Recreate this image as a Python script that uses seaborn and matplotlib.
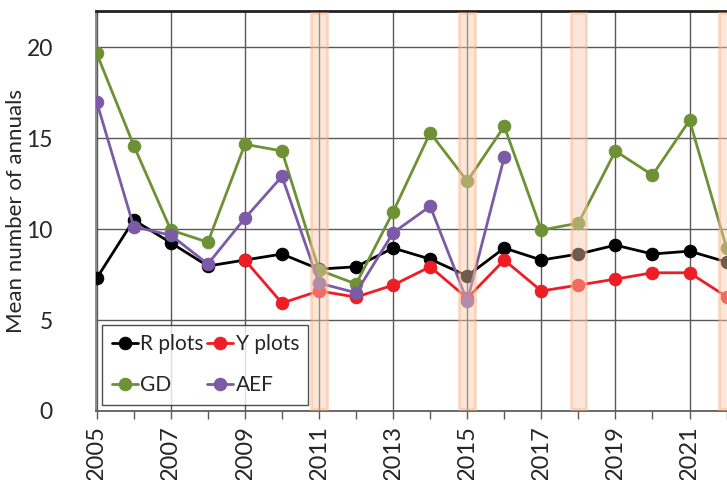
import numpy as np
import pandas as pd
import matplotlib
matplotlib.use("Agg")
import matplotlib.pyplot as plt
import seaborn as sns
from matplotlib.patches import Rectangle

# ================= DATA =================
years_r = list(range(2005, 2023))
r_plots = [7.3, 10.5, 9.25, 7.97, 8.3, 8.63, 7.8, 7.93, 8.96, 8.35, 7.43, 8.96,
           8.3, 8.63, 9.12, 8.63, 8.79, 8.19]

years_y = list(range(2009, 2023))
y_plots = [8.3, 5.93, 6.6, 6.26, 6.92, 7.93, 6.2, 8.3, 6.6, 6.92, 7.25, 7.6, 7.6, 6.28]

years_gd = list(range(2005, 2023))
gd = [19.67, 14.6, 9.95, 9.28, 14.67, 14.3, 7.75, 6.98, 10.95, 15.3, 12.64, 15.66,
      9.95, 10.33, 14.3, 12.97, 15.99, 8.96]

years_aef = list(range(2005, 2017))
aef = [17.0, 10.13, 9.67, 8.08, 10.6, 12.9, 7.03, 6.5, 9.8, 11.26, 6.04, 13.97]

highlight_years = [2011, 2015, 2018, 2022]
xtick_years = list(range(2005, 2023, 2))

series = [
    ("R plots", years_r, r_plots, "#000000"),
    ("Y plots", years_y, y_plots, "#EE1C25"),
    ("GD", years_gd, gd, "#6E9136"),
    ("AEF", years_aef, aef, "#7B5AA6"),
]
# =========================================

sns.set_theme(style="white")
plt.rcParams['font.family'] = ['Lato', 'DejaVu Sans']

fig = plt.figure(figsize=(7.27, 4.8), dpi=100)
ax = fig.add_axes([0.132, 0.144, 0.87, 0.833])

for name, xs, ys, col in series:
    df = pd.DataFrame({"year": xs, "value": ys})
    sns.lineplot(data=df, x="year", y="value", ax=ax, color=col, marker="o",
                 markersize=9, markeredgecolor=col, linewidth=2, label=name,
                 zorder=3)

# highlighted years
for yr in highlight_years:
    ax.add_patch(Rectangle((yr - 0.21, 0.1), 0.42, 21.8, facecolor="#F8CBAD",
                           alpha=0.45, edgecolor="#F4B183", linewidth=2,
                           zorder=4))

ax.set_xlim(2004.98, 2022.05)
ax.set_ylim(0, 22)
ax.set_yticks([0, 5, 10, 15, 20])
ax.set_xticks(xtick_years)
ax.set_xticks(range(2005, 2023), minor=True)
ax.set_xticklabels([str(y) for y in xtick_years], rotation=90)
ax.tick_params(axis="x", which="both", bottom=True, length=6, width=1,
               color="#595959", labelsize=17, pad=4)
ax.tick_params(axis="y", left=False, labelsize=16.5, pad=25)

ax.grid(True, which="major", color="#595959", linewidth=1)
ax.set_axisbelow(True)

ax.spines["top"].set_color("#222222")
ax.spines["top"].set_linewidth(2)
ax.spines["left"].set_color("#808080")
ax.spines["bottom"].set_color("#595959")
ax.spines["right"].set_visible(False)

ax.set_xlabel("")
ax.set_ylabel("Mean number of annuals", fontsize=16)
ax.yaxis.set_label_coords(-0.11, 0.5)

# legend rows: R plots / Y plots, then GD / AEF
handles, labels = ax.get_legend_handles_labels()
order = [0, 2, 1, 3]
leg = ax.legend([handles[i] for i in order], [labels[i] for i in order],
                loc="lower left", ncol=2, fontsize=15, frameon=True,
                fancybox=False, edgecolor="#222222", handlelength=1.25,
                handletextpad=0.1, columnspacing=0.2, labelspacing=1.0,
                borderpad=0.45, borderaxespad=0.3)
leg.get_frame().set_linewidth(1)
leg.set_zorder(5)

fig.savefig("out.png", dpi=100)
